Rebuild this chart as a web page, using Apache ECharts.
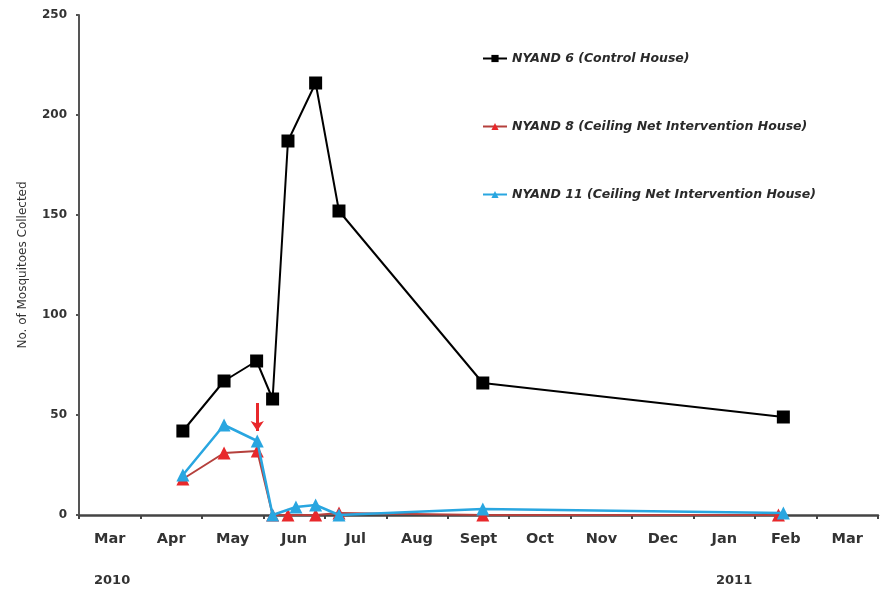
<!DOCTYPE html>
<html>
<head>
<meta charset="utf-8">
<script src="https://cdn.jsdelivr.net/npm/echarts@6/dist/echarts.min.js"></script>
<style>html,body{margin:0;padding:0;background:#fff}#c{width:880px;height:593px}</style>
</head>
<body>
<div id="c"></div>
<script>
// Month categories (Mar 2010 .. Mar 2011)
var months = ['Mar','Apr','May','Jun','Jul','Aug','Sept','Oct','Nov','Dec','Jan','Feb','Mar'];
var yearLabels = ['2010','2011'];
// x = months elapsed since 1 Mar 2010
var nyand6X = [1.69, 2.36, 2.89, 3.15, 3.40, 3.85, 4.23, 6.57, 11.46];
var nyand6Y = [42, 67, 77, 58, 187, 216, 152, 66, 49];
var nyand8X = [1.69, 2.36, 2.90, 3.15, 3.40, 3.85, 4.23, 6.57, 11.38];
var nyand8Y = [18, 31, 32, 0, 0, 0, 1, 0, 0];
var nyand11X = [1.69, 2.36, 2.90, 3.15, 3.53, 3.85, 4.23, 6.57, 11.46];
var nyand11Y = [20, 45, 37, 0, 4, 5, 0, 3, 1];
var names = ['NYAND 6 (Control House)', 'NYAND 8 (Ceiling Net Intervention House)', 'NYAND 11 (Ceiling Net Intervention House)'];
var arrowX = 2.90, arrowFrom = 56, arrowTo = 42;

function pairs(xs, ys){ return xs.map(function(x,i){ return [x, ys[i]]; }); }

var chart = echarts.init(document.getElementById('c'));
var font = '"DejaVu Sans", sans-serif';
chart.setOption({
  animation: false,
  textStyle: {fontFamily: font},
  grid: {left: 79, right: 2, top: 15, bottom: 78, containLabel: false},
  legend: {
    orient: 'vertical', left: 477, top: 47, itemGap: 55,
    itemWidth: 24, itemHeight: 9,
    data: names,
    textStyle: {fontFamily: font, fontStyle: 'italic', fontWeight: 'bold', fontSize: 12.5, color: '#2a2a2a'}
  },
  xAxis: [{
    type: 'category', data: months, boundaryGap: true,
    axisLine: {lineStyle: {color: '#444', width: 2.5}},
    axisTick: {show: true, length: 4, lineStyle: {color: '#444', width: 2}},
    axisLabel: {margin: 17, fontFamily: font, fontWeight: 'bold', fontSize: 14.5, color: '#333'},
    splitLine: {show: false}
  }, {
    type: 'value', min: 0, max: 13, show: false
  }],
  yAxis: {
    type: 'value', min: 0, max: 250, interval: 50,
    name: 'No. of Mosquitoes Collected', nameLocation: 'middle', nameGap: 50,
    nameTextStyle: {fontFamily: font, fontSize: 12, color: '#333'},
    axisLine: {show: true, lineStyle: {color: '#555', width: 2}},
    axisTick: {show: true, length: 3, lineStyle: {color: '#555', width: 2}},
    axisLabel: {margin: 12, fontFamily: font, fontWeight: 'bold', fontSize: 12, color: '#333'},
    splitLine: {show: false}
  },
  graphic: [
    {type: 'text', left: 94, top: 574, style: {text: yearLabels[0], font: 'bold 13px ' + font, fill: '#333'}},
    {type: 'text', left: 716, top: 574, style: {text: yearLabels[1], font: 'bold 13px ' + font, fill: '#333'}}
  ],
  series: [{
    name: names[0], type: 'line', xAxisIndex: 1, data: pairs(nyand6X, nyand6Y),
    symbol: 'rect', symbolSize: 13, lineStyle: {color: '#000', width: 2},
    itemStyle: {color: '#000'}, z: 3
  }, {
    name: names[1], type: 'line', xAxisIndex: 1, data: pairs(nyand8X, nyand8Y),
    symbol: 'triangle', symbolSize: 13, lineStyle: {color: '#b5403c', width: 2},
    itemStyle: {color: '#e8282b'}, z: 4,
    markLine: {
      silent: true, symbol: ['none', 'arrow'], symbolSize: [10, 10],
      label: {show: false},
      lineStyle: {color: '#e8282b', width: 3, type: 'solid'},
      data: [[{coord: [arrowX, arrowFrom]}, {coord: [arrowX, arrowTo]}]]
    }
  }, {
    name: names[2], type: 'line', xAxisIndex: 1, data: pairs(nyand11X, nyand11Y),
    symbol: 'triangle', symbolSize: 13, lineStyle: {color: '#29a6e0', width: 2.5},
    itemStyle: {color: '#29a6e0'}, z: 5
  }]
});
</script>
</body>
</html>
